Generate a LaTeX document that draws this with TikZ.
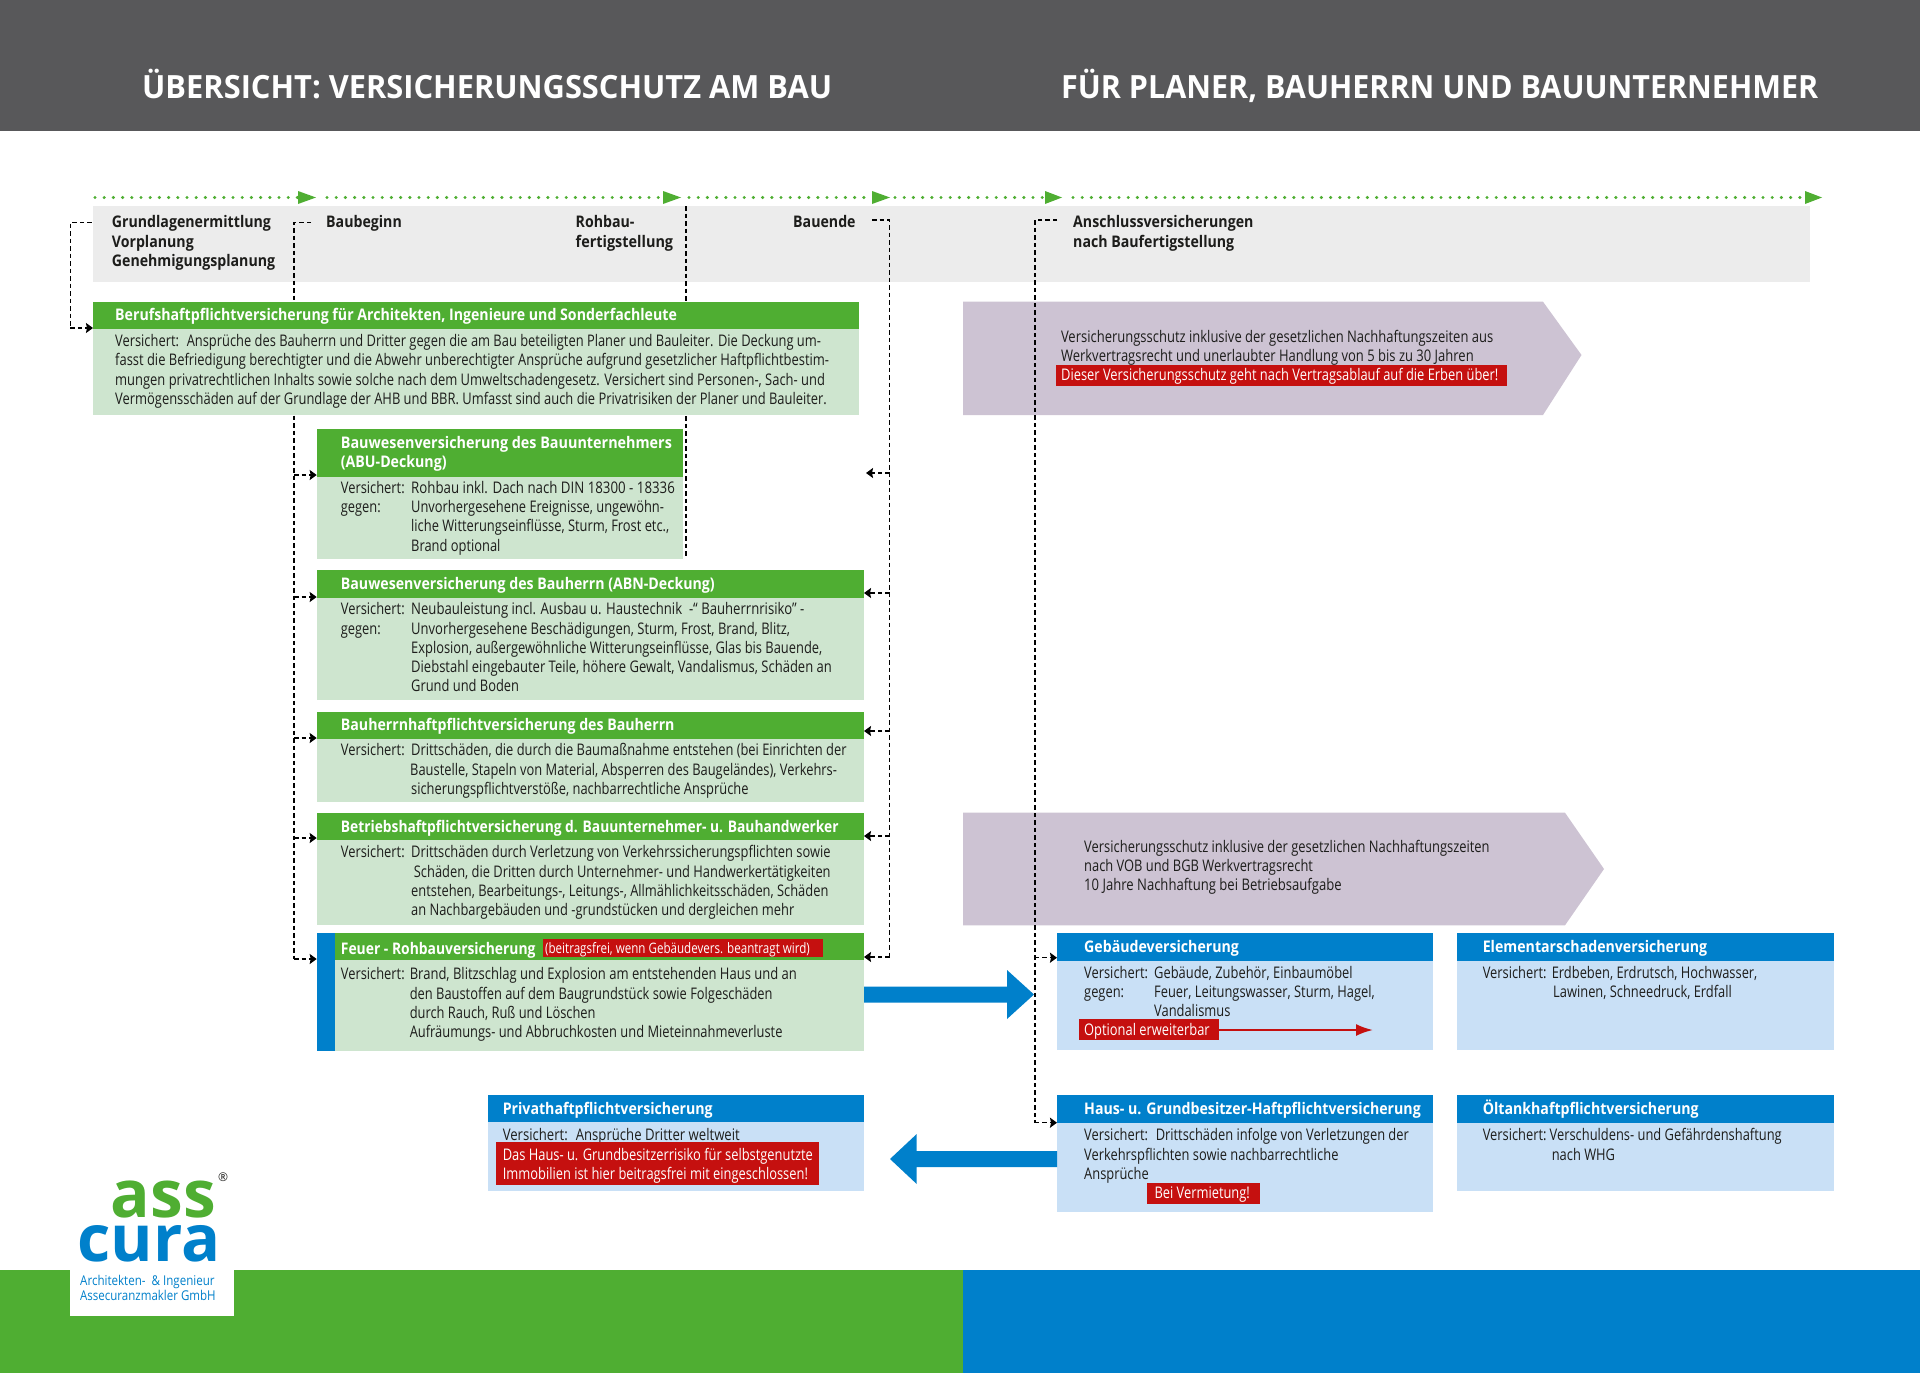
\documentclass[tikz,border=0pt]{standalone}
\usepackage{fontspec}
\usepackage{graphicx}
\usetikzlibrary{arrows.meta,calc}
\setmainfont[FakeStretch=0.805]{Open Sans}
\newfontfamily\hboldfont[FakeStretch=0.885]{Open Sans}
\newfontfamily\titlefont[FakeStretch=0.96]{Open Sans}
\newfontfamily\logofont{Open Sans}
\newfontfamily\logosmall[FakeStretch=0.875]{Open Sans}
\definecolor{cgreen}{HTML}{4FAE32}
\definecolor{cblue}{HTML}{0080CB}
\definecolor{lgreen}{HTML}{CEE5CF}
\definecolor{lblue}{HTML}{C9E0F6}
\definecolor{cpurple}{HTML}{CDC3D3}
\definecolor{cred}{HTML}{C5100F}
\definecolor{cgray}{HTML}{ECECEC}
\definecolor{cdark}{HTML}{58585A}
\definecolor{ctext}{HTML}{1D1D1B}
\newcounter{tlc}
% body text line
\newcommand{\bl}[3]{\stepcounter{tlc}\node[bodytxt] (t\thetlc) at (#1,#2) {#3};}
% header text line
\newcommand{\hl}[3]{\stepcounter{tlc}\node[headtxt] (t\thetlc) at (#1,#2) {#3};}
% band text line
\newcommand{\gl}[3]{\stepcounter{tlc}\node[bandtxt] (t\thetlc) at (#1,#2) {#3};}
% red text line
\newcommand{\rl}[3]{\stepcounter{tlc}\node[redtxt] (t\thetlc) at (#1,#2) {#3};}
% horizontal fit of one line
\newcommand{\hfit}[2]{\scalebox{#1}[1]{#2}}
% area box: name, x0,y0,x1,y1, colour
\newcommand{\area}[6]{\node[areabox,fill=#6,minimum width=#4pt-#2pt,minimum height=#5pt-#3pt] (#1) at (#2,#3) {};}
\tikzset{
  areabox/.style={draw=none,rectangle,anchor=north west,inner sep=0pt,outer sep=0pt},
  bodytxt/.style={anchor=base west,inner sep=0pt,yshift=-0.7pt,text=ctext,font=\fontsize{16}{19}\selectfont},
  headtxt/.style={anchor=base west,inner sep=0pt,yshift=-0.7pt,text=white,font=\fontsize{16}{19}\selectfont\hboldfont\bfseries},
  bandtxt/.style={anchor=base west,inner sep=0pt,yshift=-0.7pt,text=ctext,font=\fontsize{16}{19}\selectfont\hboldfont\bfseries},
  redtxt/.style={anchor=base west,inner sep=0pt,yshift=-0.7pt,text=white,font=\fontsize{16}{19}\selectfont},
  titletxt/.style={anchor=base west,inner sep=0pt,text=white,font=\fontsize{32}{36}\selectfont\titlefont\bfseries},
  dashline/.style={draw=black,line width=1.4pt,dash pattern=on 4.5pt off 3pt},
  dasharrow/.style={dashline,-{Stealth[length=7pt,width=10pt,inset=1pt]}},
  dotline/.style={draw=cgreen,line width=3.4pt,line cap=round,dash pattern=on 0pt off 9.2pt},
}
\begin{document}
\begin{tikzpicture}[x=1pt,y=-1pt]
\useasboundingbox (0,0) rectangle (1920,1373);
% header
\area{hdr}{0}{0}{1920}{131}{cdark}
\node[titletxt] (title1) at (142,98) {\hfit{1.003}{ÜBERSICHT: VERSICHERUNGSSCHUTZ AM BAU}};
\node[titletxt] (title2) at (1061,98) {\hfit{0.992}{FÜR PLANER, BAUHERRN UND BAUUNTERNEHMER}};
% footer
\area{fgreen}{0}{1269.7}{963}{1373}{cgreen}
\area{fblue}{963}{1269.7}{1920}{1373}{cblue}
\area{logobox}{70}{1269.7}{234}{1315.7}{white}
% band
\area{band}{93}{206}{1810}{281.7}{cgray}
% timeline
\coordinate (d1a) at (95,197.5); \coordinate (d1b) at (298,197.5); \coordinate (h1) at (316,197.5);
\coordinate (d2a) at (327,197.5); \coordinate (d2b) at (663,197.5); \coordinate (h2) at (681,197.5);
\coordinate (d3a) at (689,197.5); \coordinate (d3b) at (872,197.5); \coordinate (h3) at (890,197.5);
\coordinate (d4a) at (895,197.5); \coordinate (d4b) at (1045,197.5); \coordinate (h4) at (1062,197.5);
\coordinate (d5a) at (1073,197.5); \coordinate (d5b) at (1805,197.5); \coordinate (h5) at (1822,197.5);
\foreach \i in {1,...,5}{
  \draw[dotline] (d\i a) -- (d\i b);
  \fill[cgreen] ($(d\i b)+(0,-6.5)$) -- (h\i) -- ($(d\i b)+(0,6.5)$) -- cycle;
}
% band labels
\gl{111.7}{227}{Grundlagenermittlung}
\gl{111.7}{246.5}{Vorplanung}
\gl{111.7}{266}{Genehmigungsplanung}
\gl{326}{227}{Baubeginn}
\gl{575.5}{227}{Rohbau-}
\gl{575.5}{246.5}{\hfit{1.02}{fertigstellung}}
\gl{793}{227}{Bauende}
\gl{1073}{227}{Anschlussversicherungen}
\gl{1073}{246.5}{nach Baufertigstellung}
% connector anchors
\coordinate (aS) at (91.6,222.5); \coordinate (aC) at (70.3,222.5); \coordinate (aE) at (70.3,328);
\coordinate (bS) at (311,222.5); \coordinate (bC) at (294,222.5); \coordinate (bE) at (294,959);
\coordinate (cS) at (686,206); \coordinate (cE) at (686,558);
\coordinate (dS) at (872,220); \coordinate (dC) at (889.5,220); \coordinate (dE) at (889.5,957);
\coordinate (eS) at (1057,220); \coordinate (eC) at (1034.8,220); \coordinate (eE) at (1034.8,1122.7);
\draw[dashline] (bS) -- (bC) -- (bE);
\draw[dashline] (cS) -- (cE);
\draw[dashline] (dS) -- (dC) -- (dE);
% Berufshaftpflicht
\area{berufH}{93}{301.7}{859}{329}{cgreen}
\area{berufB}{93}{329}{859}{415}{lgreen}
\hl{115}{320}{Berufshaftpflichtversicherung für Architekten, Ingenieure und Sonderfachleute}
\bl{115}{345.7}{Versichert:~ Ansprüche des Bauherrn und Dritter gegen die am Bau beteiligten Planer und Bauleiter. Die Deckung um-}
\bl{115}{365}{\hfit{1.005}{fasst die Befriedigung berechtigter und die Abwehr unberechtigter Ansprüche aufgrund gesetzlicher Haftpflichtbestim-}}
\bl{115}{384.3}{\hfit{1.005}{mungen privatrechtlichen Inhalts sowie solche nach dem Umweltschadengesetz. Versichert sind Personen-, Sach- und}}
\bl{115}{403.5}{\hfit{1.003}{Vermögensschäden auf der Grundlage der AHB und BBR. Umfasst sind auch die Privatrisiken der Planer und Bauleiter.}}
\draw[dashline] (aS) -- (aC) -- (aE);
\draw[dasharrow] (aE) -- (aE -| berufH.west);
% ABU
\area{abuH}{316.7}{429.3}{683}{477.3}{cgreen}
\area{abuB}{316.7}{477.3}{683}{559}{lgreen}
\hl{340.7}{447.7}{\hfit{1.015}{Bauwesenversicherung des Bauunternehmers}}
\hl{340.7}{467}{(ABU-Deckung)}
\bl{340.7}{492.7}{Versichert:}
\bl{411}{492.7}{\hfit{1.03}{Rohbau inkl. Dach nach DIN 18300 - 18336}}
\bl{340.7}{512}{gegen:}
\bl{411}{512}{Unvorhergesehene Ereignisse, ungewöhn-}
\bl{411}{531}{liche Witterungseinflüsse, Sturm, Frost etc.,}
\bl{411}{550.5}{Brand optional}
% ABN
\area{abnH}{316.7}{570}{864}{597.7}{cgreen}
\area{abnB}{316.7}{597.7}{864}{700}{lgreen}
\hl{340.7}{589}{Bauwesenversicherung des Bauherrn (ABN-Deckung)}
\bl{340.7}{614}{Versichert:}
\bl{411}{614}{\hfit{1.02}{Neubauleistung incl. Ausbau u. Haustechnik~ -“ Bauherrnrisiko” -}}
\bl{340.7}{633.4}{gegen:}
\bl{411}{633.4}{\hfit{1.01}{Unvorhergesehene Beschädigungen, Sturm, Frost, Brand, Blitz,}}
\bl{411}{652.5}{Explosion, außergewöhnliche Witterungseinflüsse, Glas bis Bauende,}
\bl{411}{672}{\hfit{1.01}{Diebstahl eingebauter Teile, höhere Gewalt, Vandalismus, Schäden an}}
\bl{411}{691}{Grund und Boden}
% Bauherrnhaftpflicht
\area{bhH}{316.7}{712}{864}{739.3}{cgreen}
\area{bhB}{316.7}{739.3}{864}{801.7}{lgreen}
\hl{340.7}{730}{Bauherrnhaftpflichtversicherung des Bauherrn}
\bl{340.7}{755}{Versichert:}
\bl{411}{755}{Drittschäden, die durch die Baumaßnahme entstehen (bei Einrichten der}
\bl{410}{774.3}{Baustelle, Stapeln von Material, Absperren des Baugeländes), Verkehrs-}
\bl{411}{793.5}{sicherungspflichtverstöße, nachbarrechtliche Ansprüche}
% Betriebshaftpflicht
\area{beH}{316.7}{812.7}{864}{839.7}{cgreen}
\area{beB}{316.7}{839.7}{864}{925.3}{lgreen}
\hl{340.7}{832}{\hfit{0.974}{Betriebshaftpflichtversicherung d. Bauunternehmer- u. Bauhandwerker}}
\bl{340.7}{857}{Versichert:}
\bl{411}{857}{Drittschäden durch Verletzung von Verkehrssicherungspflichten sowie}
\bl{413.7}{876.4}{Schäden, die Dritten durch Unternehmer- und Handwerkertätigkeiten}
\bl{411}{896}{entstehen, Bearbeitungs-, Leitungs-, Allmählichkeitsschäden, Schäden}
\bl{411}{915}{an Nachbargebäuden und -grundstücken und dergleichen mehr}
% Feuer
\area{feS}{316.7}{933.3}{334.6}{1050.7}{cblue}
\area{feH}{334.6}{933.3}{864}{960}{cgreen}
\area{feB}{334.6}{960}{864}{1050.7}{lgreen}
\hl{340.7}{954}{\hfit{0.98}{Feuer - Rohbauversicherung}}
\area{feR}{543.3}{939}{823.4}{957}{cred}
\stepcounter{tlc}\node[redtxt,font=\fontsize{14.4}{16}\selectfont] (t\thetlc) at (545,953) {(beitragsfrei, wenn Gebäudevers. beantragt wird)};
\bl{340.7}{979}{Versichert:}
\bl{409.6}{979}{\hfit{1.01}{Brand, Blitzschlag und Explosion am entstehenden Haus und an}}
\bl{409.6}{998.4}{den Baustoffen auf dem Baugrundstück sowie Folgeschäden}
\bl{409.6}{1017.6}{durch Rauch, Ruß und Löschen}
\bl{409.6}{1036.7}{Aufräumungs- und Abbruchkosten und Mieteinnahmeverluste}
% left connector arrows
\coordinate (b1) at (294,475); \coordinate (b2) at (294,597); \coordinate (b3) at (294,738); \coordinate (b4) at (294,838);
\draw[dasharrow] (b1) -- (b1 -| abuH.west);
\draw[dasharrow] (b2) -- (b2 -| abnH.west);
\draw[dasharrow] (b3) -- (b3 -| bhH.west);
\draw[dasharrow] (b4) -- (b4 -| beH.west);
\draw[dasharrow] (bE) -- (bE -| feS.west);
% right connector arrows
\coordinate (d1) at (889.5,473); \coordinate (d2) at (889.5,593); \coordinate (d3) at (889.5,731); \coordinate (d4) at (889.5,836);
\coordinate (dT1) at (866,473);
\draw[dasharrow] (d1) -- (dT1);
\draw[dasharrow] (d2) -- (d2 -| abnH.east);
\draw[dasharrow] (d3) -- (d3 -| bhH.east);
\draw[dasharrow] (d4) -- (d4 -| beH.east);
\draw[dasharrow] (dE) -- (dE -| feH.east);
% Purple 1
\fill[cpurple] (963,301.7) -- (1543,301.7) -- (1581.5,355) -- (1543,415) -- (963,415) -- cycle;
\bl{1060.8}{341.7}{\hfit{1.01}{Versicherungsschutz inklusive der gesetzlichen Nachhaftungszeiten aus}}
\bl{1060.8}{360.7}{\hfit{1.01}{Werkvertragsrecht und unerlaubter Handlung von 5 bis zu 30 Jahren}}
\area{pur1R}{1056}{365.3}{1507}{385.7}{cred}
\rl{1061}{380}{Dieser Versicherungsschutz geht nach Vertragsablauf auf die Erben über!}
% Purple 2
\fill[cpurple] (963,812.7) -- (1565,812.7) -- (1604,869) -- (1565,925.3) -- (963,925.3) -- cycle;
\bl{1084}{851.7}{\hfit{1.005}{Versicherungsschutz inklusive der gesetzlichen Nachhaftungszeiten}}
\bl{1084}{871}{nach VOB und BGB Werkvertragsrecht}
\bl{1084}{890}{\hfit{1.015}{10 Jahre Nachhaftung bei Betriebsaufgabe}}
% Gebaeude
\area{geH}{1057}{933.3}{1433}{960.7}{cblue}
\area{geB}{1057}{960.7}{1433}{1050.3}{lblue}
\hl{1084}{951.7}{Gebäudeversicherung}
\bl{1084}{977.7}{Versichert:}
\bl{1154}{977.7}{Gebäude, Zubehör, Einbaumöbel}
\bl{1084}{996.7}{gegen:}
\bl{1154}{996.7}{Feuer, Leitungswasser, Sturm, Hagel,}
\bl{1154}{1016}{Vandalismus}
\area{geR}{1078.6}{1019.3}{1219.4}{1040.3}{cred}
\rl{1084}{1035}{Optional erweiterbar}
\coordinate (geA) at (1373,1030);
\draw[cred,line width=2.2pt,-{Latex[length=17pt,width=12pt]}] (geR.east |- geA) -- (geA);
% Elementar
\area{elH}{1457}{933.3}{1834}{960.7}{cblue}
\area{elB}{1457}{960.7}{1834}{1050.3}{lblue}
\hl{1482.6}{951.7}{Elementarschadenversicherung}
\bl{1482.6}{977.7}{Versichert:}
\bl{1551.6}{977.7}{Erdbeben, Erdrutsch, Hochwasser,}
\bl{1553}{996.7}{Lawinen, Schneedruck, Erdfall}
% Haus
\area{hausH}{1057}{1095.3}{1433}{1122.7}{cblue}
\area{hausB}{1057}{1122.7}{1433}{1212}{lblue}
\hl{1084}{1114}{Haus- u. Grundbesitzer-Haftpflichtversicherung}
\bl{1084}{1140}{Versichert:~ Drittschäden infolge von Verletzungen der}
\bl{1084}{1159.3}{Verkehrspflichten sowie nachbarrechtliche}
\bl{1084}{1178.5}{Ansprüche}
\area{hausR}{1147}{1183.3}{1259.8}{1203.7}{cred}
\rl{1154.3}{1198}{Bei Vermietung!}
% Oeltank
\area{oeH}{1457}{1095.3}{1834}{1122.7}{cblue}
\area{oeB}{1457}{1122.7}{1834}{1190.7}{lblue}
\hl{1482.6}{1114}{Öltankhaftpflichtversicherung}
\bl{1482.6}{1140}{Versichert:}
\bl{1549.5}{1140}{Verschuldens- und Gefährdenshaftung}
\bl{1551.6}{1159.3}{nach WHG}
% Privat
\area{prH}{487.8}{1095.3}{864}{1122.3}{cblue}
\area{prB}{487.8}{1122.3}{864}{1190.7}{lblue}
\hl{502.6}{1114}{Privathaftpflichtversicherung}
\bl{502.6}{1139.3}{\hfit{1.02}{Versichert:~ Ansprüche Dritter weltweit}}
\area{prR}{496.4}{1142}{819.4}{1185.3}{cred}
\rl{502.6}{1159.3}{Das Haus- u. Grundbesitzerrisiko für selbstgenutzte}
\rl{502.6}{1178.7}{Immobilien ist hier beitragsfrei mit eingeschlossen!}
% E connector
\draw[dashline] (eS) -- (eC) -- (eE);
\coordinate (e1) at (1034.8,957.7);
\draw[dasharrow] (e1) -- (e1 -| geH.west);
\draw[dasharrow] (eE) -- (eE -| hausH.west);
% Big arrows
\fill[cblue] (864,986.7) -- (1007,986.7) -- (1007,970) -- (1034,994.5) -- (1007,1019) -- (1007,1002.7) -- (864,1002.7) -- cycle;
\fill[cblue] (1057,1151) -- (916.7,1151) -- (916.7,1134) -- (890,1159) -- (916.7,1184) -- (916.7,1167) -- (1057,1167) -- cycle;
% Logo
\node[anchor=base west,inner sep=0pt,text=cgreen,font=\logofont\bfseries] (lass) at (110.5,1217.7) {\resizebox{105pt}{!}{ass}};
\node[anchor=base west,inner sep=0pt,text=cblue,font=\logofont\bfseries] (lcura) at (77.5,1261) {\resizebox{143pt}{!}{cura}};
\node[inner sep=0pt,text=ctext,font=\fontsize{12}{12}\selectfont\logofont] (lreg) at (223,1177) {®};
\node[anchor=base west,inner sep=0pt,text=cblue,font=\fontsize{13.5}{15}\selectfont\logosmall] (ls1) at (80,1285.7) {\hfit{0.98}{Architekten-~ \& Ingenieur}};
\node[anchor=base west,inner sep=0pt,text=cblue,font=\fontsize{13.5}{15}\selectfont\logosmall] (ls2) at (80,1300) {\hfit{0.975}{Assecuranzmakler GmbH}};
\end{tikzpicture}
\end{document}
